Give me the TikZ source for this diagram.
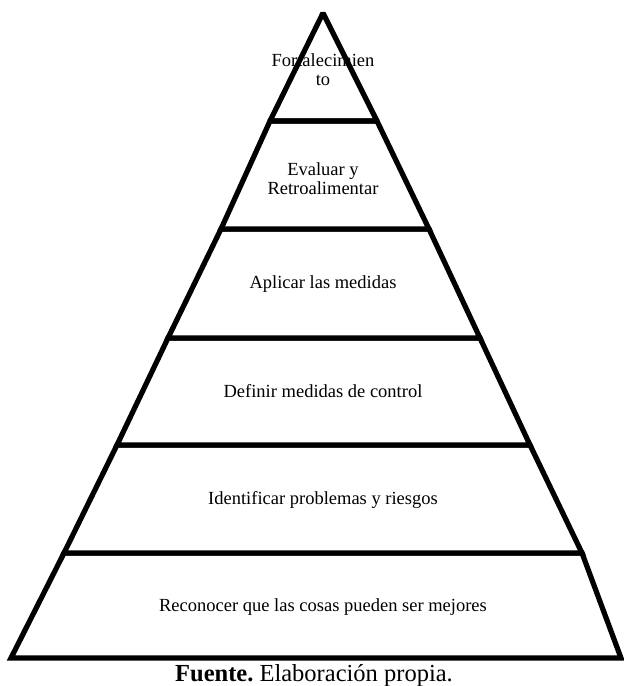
\documentclass[tikz,border=0pt]{standalone}
\usepackage{fontspec}
\setmainfont{Liberation Serif}
\begin{document}
\begin{tikzpicture}[x=1pt,y=-1pt,
  level/.style={draw=black,line width=5.2pt,line join=miter,fill=white},
  lbl/.style={align=center,font=\fontsize{18.5}{19}\selectfont,inner sep=0pt},
  captext/.style={font=\fontsize{24.5}{26}\selectfont,inner sep=0pt}]
\useasboundingbox (0,0) rectangle (624,686);
\coordinate (A) at (323,13);
\coordinate (L1) at (270,121); \coordinate (R1) at (377,121);
\coordinate (L2) at (221,229); \coordinate (R2) at (429,229);
\coordinate (L3) at (168,338); \coordinate (R3) at (480,338);
\coordinate (L4) at (117,445); \coordinate (R4) at (530,445);
\coordinate (L5) at (64,553);  \coordinate (R5) at (582,553);
\coordinate (L6) at (11,658);  \coordinate (R6) at (621,658);
\draw[level] (L6) -- (R6) -- (R5) -- (L5) -- cycle;
\draw[level] (L5) -- (R5) -- (R4) -- (L4) -- cycle;
\draw[level] (L4) -- (R4) -- (R3) -- (L3) -- cycle;
\draw[level] (L3) -- (R3) -- (R2) -- (L2) -- cycle;
\draw[level] (L2) -- (R2) -- (R1) -- (L1) -- cycle;
\draw[level,fill=none,line join=bevel] (L1) -- (R1) -- (A) -- cycle;
\node[lbl] (t1) at (323,70) {Fortalecimien\\to};
\node[lbl] (t2) at (323,179) {Evaluar y\\Retroalimentar};
\node[lbl] (t3) at (323,284) {Aplicar las medidas};
\node[lbl] (t4) at (323,391) {Definir medidas de control};
\node[lbl] (t5) at (323,500) {Identificar problemas y riesgos};
\node[lbl] (t6) at (323,607) {Reconocer que las cosas pueden ser mejores};
\node[captext] (c) at (314,676) {\textbf{Fuente.}~Elaboración propia.};
\end{tikzpicture}
\end{document}
